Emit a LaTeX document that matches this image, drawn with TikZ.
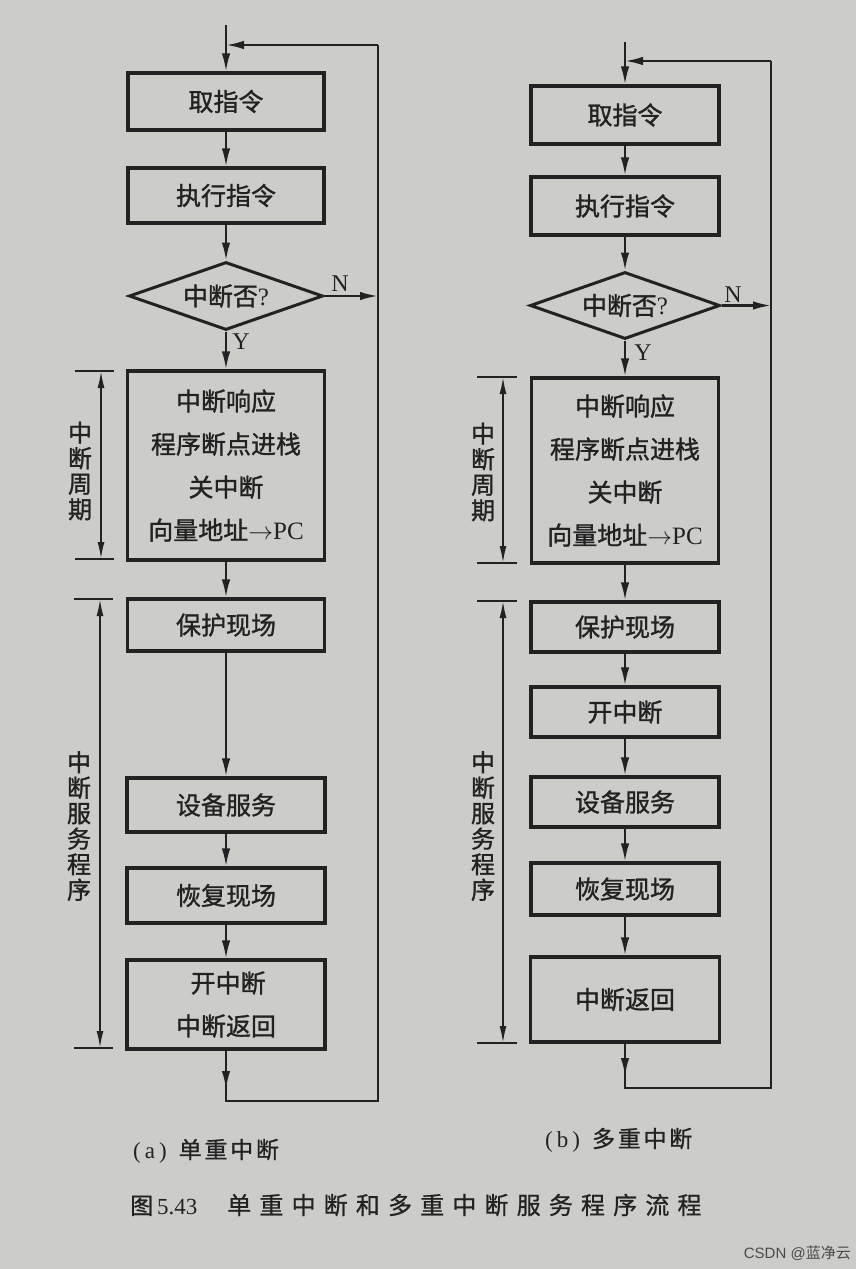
\documentclass[tikz,border=0pt]{standalone}
\usepackage{fontspec}
\setmainfont{Liberation Serif}
\newfontfamily\cjk[FakeBold=1.2]{Noto Sans CJK SC}
\newfontfamily\cjkcap[FakeBold=0.8,LetterSpace=12]{Noto Sans CJK SC}
\newfontfamily\cjksp[FakeBold=0.8,LetterSpace=34]{Noto Sans CJK SC}
\newfontfamily\cjkplain{Noto Sans CJK SC}
\newfontfamily\wmsans{Liberation Sans}
\usetikzlibrary{arrows.meta,shapes.geometric}
\definecolor{paper}{HTML}{CCCCC9}
\definecolor{ink}{HTML}{222222}
\definecolor{wm}{HTML}{4A4A4A}
\begin{document}
\begin{tikzpicture}[x=1pt,y=-1pt,
  box/.style={draw=ink, line width=3.2pt, inner sep=0pt, align=center, text=ink,
    font=\fontsize{25}{43}\selectfont\cjk},
  dec/.style={diamond, draw=ink, line width=3pt, inner sep=0pt, aspect=2.85, text=ink,
    font=\fontsize{25}{28}\selectfont\cjk},
  flow/.style={draw=ink, line width=2.2pt, -{Latex[length=18pt,width=8.5pt]}},
  link/.style={draw=ink, line width=2pt},
  span/.style={draw=ink, line width=1.8pt, {Latex[length=17pt,width=7pt]}-{Latex[length=17pt,width=7pt]}},
  tick/.style={draw=ink, line width=1.8pt},
  vlab/.style={text=ink, align=center, inner sep=0pt, font=\fontsize{24}{25.5}\selectfont\cjk},
  yn/.style={text=ink, inner sep=0pt, font=\fontsize{24}{26}\selectfont},
  captext/.style={text=ink, inner sep=0pt, font=\fontsize{23}{26}\selectfont}
]
\fill[paper] (0,0) rectangle (856,1269);
\useasboundingbox (0,0) rectangle (856,1269);

% ---------------- (a) single interrupt ----------------
\node[box, minimum width=196pt, minimum height=57pt] (fA) at (226,101.5) {取指令};
\node[box, minimum width=196pt, minimum height=55pt] (eA) at (226,195.5) {执行指令};
\node[dec, minimum width=194pt, minimum height=68pt] (dA) at (226,296) {中断否{\rmfamily ?}};
\node[box, minimum width=197pt, minimum height=189pt] (rA) at (226,465.5)
  {中断响应\\程序断点进栈\\关中断\\向量地址{\rmfamily$\rightarrow$PC}};
\node[box, minimum width=197pt, minimum height=52pt] (sA) at (226,625) {保护现场};
\node[box, minimum width=198pt, minimum height=54pt] (vA) at (226,805) {设备服务};
\node[box, minimum width=198pt, minimum height=55pt] (hA) at (226,895.5) {恢复现场};
\node[box, minimum width=198pt, minimum height=89pt] (tA) at (226,1004.5)
  {\,开中断\\中断返回};

\coordinate (inA) at (226,25);
\coordinate (joinA) at (226,45);
\coordinate (trA) at (378,45);
\coordinate (brA) at (378,1101);
\coordinate (blA) at (226,1101);
\coordinate (tipA) at (226,1089);

\draw[flow] (inA) -- (fA.north);
\draw[flow] (fA.south) -- (eA.north);
\draw[flow] (eA.south) -- (dA.north);
\draw[flow] (dA.south) -- (rA.north);
\draw[flow] (dA.east) -- (dA.east -| trA);
\draw[flow] (rA.south) -- (sA.north);
\draw[flow] (sA.south) -- (vA.north);
\draw[flow] (vA.south) -- (hA.north);
\draw[flow] (hA.south) -- (tA.north);
\draw[link] (tA.south) -- (blA) -- (brA) -- (trA);
\draw[flow] (tA.south) -- (tipA);
\draw[flow] (trA) -- (joinA);

\node[yn] (nA) at (340,284) {N};
\node[yn] (yA) at (241,342) {Y};

\coordinate (pA1) at (101,371);
\coordinate (pA2) at (101,559);
\draw[span] (pA1) -- (pA2);
\draw[tick] (pA1) ++(-26,0) -- ++(39,0);
\draw[tick] (pA2) ++(-26,0) -- ++(39,0);
\node[vlab] (lA1) at (80,471) {中\\断\\周\\期};

\coordinate (qA1) at (100,599);
\coordinate (qA2) at (100,1048);
\draw[span] (qA1) -- (qA2);
\draw[tick] (qA1) ++(-26,0) -- ++(39,0);
\draw[tick] (qA2) ++(-26,0) -- ++(39,0);
\node[vlab] (lA2) at (79,826) {中\\断\\服\\务\\程\\序};

% ---------------- (b) multiple interrupt ----------------
\node[box, minimum width=188pt, minimum height=58pt] (fB) at (625,115) {取指令};
\node[box, minimum width=188pt, minimum height=58pt] (eB) at (625,206) {执行指令};
\node[dec, minimum width=190pt, minimum height=67pt] (dB) at (625,305.5) {中断否{\rmfamily ?}};
\node[box, minimum width=187pt, minimum height=185pt] (rB) at (625,470.5)
  {中断响应\\程序断点进栈\\关中断\\向量地址{\rmfamily$\rightarrow$PC}};
\node[box, minimum width=188pt, minimum height=50pt] (sB) at (625,627) {保护现场};
\node[box, minimum width=188pt, minimum height=50pt] (oB) at (625,712) {开中断};
\node[box, minimum width=188pt, minimum height=50pt] (vB) at (625,802) {设备服务};
\node[box, minimum width=188pt, minimum height=52pt] (hB) at (625,889) {恢复现场};
\node[box, minimum width=189pt, minimum height=85pt] (tB) at (625,999.5) {中断返回};

\coordinate (inB) at (625,42);
\coordinate (joinB) at (625,61);
\coordinate (trB) at (771,61);
\coordinate (brB) at (771,1088);
\coordinate (blB) at (625,1088);
\coordinate (tipB) at (625,1076);

\draw[flow] (inB) -- (fB.north);
\draw[flow] (fB.south) -- (eB.north);
\draw[flow] (eB.south) -- (dB.north);
\draw[flow] (dB.south) -- (rB.north);
\draw[flow] (dB.east) -- (dB.east -| trB);
\draw[flow] (rB.south) -- (sB.north);
\draw[flow] (sB.south) -- (oB.north);
\draw[flow] (oB.south) -- (vB.north);
\draw[flow] (vB.south) -- (hB.north);
\draw[flow] (hB.south) -- (tB.north);
\draw[link] (tB.south) -- (blB) -- (brB) -- (trB);
\draw[flow] (tB.south) -- (tipB);
\draw[flow] (trB) -- (joinB);

\node[yn] (nB) at (733,295) {N};
\node[yn] (yB) at (643,353) {Y};

\coordinate (pB1) at (503,377);
\coordinate (pB2) at (503,563);
\draw[span] (pB1) -- (pB2);
\draw[tick] (pB1) ++(-26,0) -- ++(40,0);
\draw[tick] (pB2) ++(-26,0) -- ++(40,0);
\node[vlab] (lB1) at (483,472) {中\\断\\周\\期};

\coordinate (qB1) at (503,601);
\coordinate (qB2) at (503,1043);
\draw[span] (qB1) -- (qB2);
\draw[tick] (qB1) ++(-26,0) -- ++(40,0);
\draw[tick] (qB2) ++(-26,0) -- ++(40,0);
\node[vlab] (lB2) at (483,826) {中\\断\\服\\务\\程\\序};

% ---------------- captions ----------------
\node[captext, anchor=west] (capA) at (133,1151) {(\hspace{4pt}a\hspace{4pt})\hspace{12pt}{\cjkcap 单重中断}};
\node[captext, anchor=west] (capB) at (545,1140) {(\hspace{4pt}b\hspace{4pt})\hspace{12pt}{\cjkcap 多重中断}};
\node[captext, anchor=west] (capF) at (130,1205)
  {{\cjkcap 图}\,5.43\hspace{30pt}{\fontsize{24}{26}\selectfont\cjksp 单重中断和多重中断服务程序流程}};
\node[text=wm, inner sep=0pt, anchor=east, font=\fontsize{15}{17}\selectfont] (wmk) at (851,1253)
  {{\wmsans CSDN @}{\cjkplain 蓝净云}};
\end{tikzpicture}
\end{document}
